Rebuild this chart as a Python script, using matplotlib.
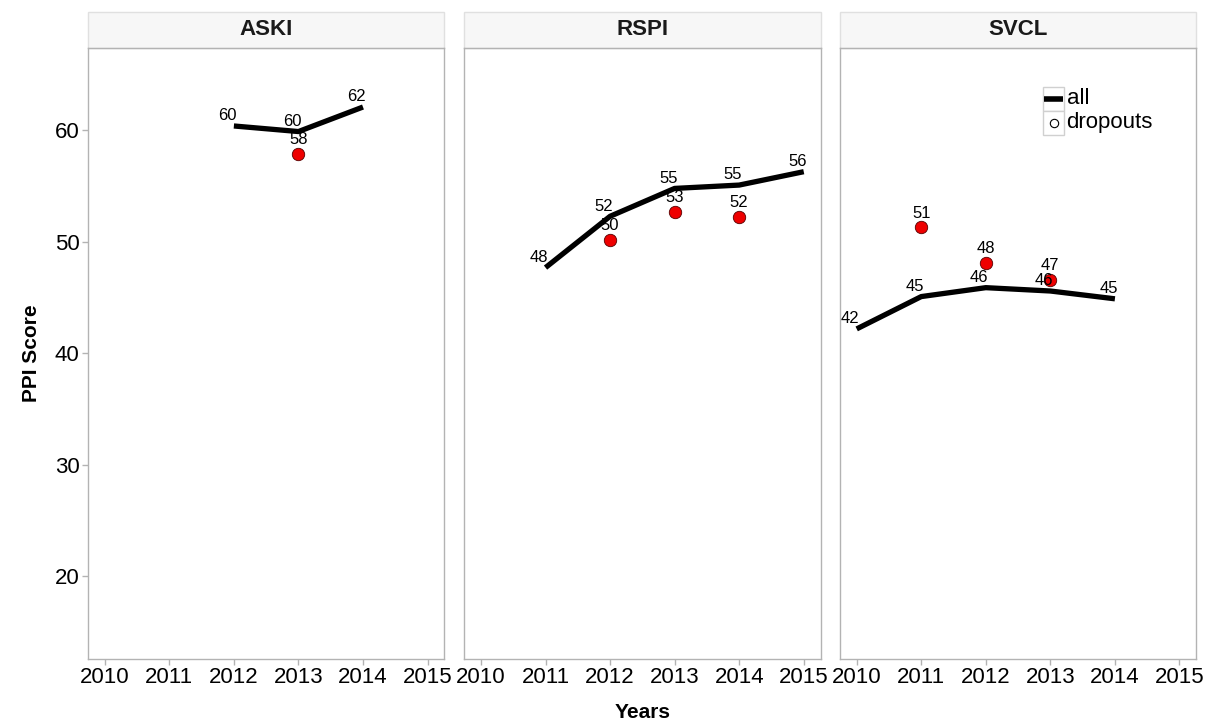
import numpy as np
import matplotlib
matplotlib.use('Agg')
import matplotlib.pyplot as plt
from matplotlib.lines import Line2D
from matplotlib.patches import Rectangle

plt.rcParams['font.family'] = ['Liberation Sans', 'DejaVu Sans']

# ── Data ──────────────────────────────────────────────────────────────────────
panels = ["ASKI", "RSPI", "SVCL"]

all_years = {
    "ASKI": [2012, 2013, 2014],
    "RSPI": [2011, 2012, 2013, 2014, 2015],
    "SVCL": [2010, 2011, 2012, 2013, 2014],
}
all_scores = {
    "ASKI": [60.4, 59.9, 62.1],
    "RSPI": [47.7, 52.3, 54.8, 55.1, 56.3],
    "SVCL": [42.2, 45.1, 45.9, 45.6, 44.9],
}
drop_years = {
    "ASKI": [2013],
    "RSPI": [2012, 2013, 2014],
    "SVCL": [2011, 2012, 2013],
}
drop_scores = {
    "ASKI": [57.9],
    "RSPI": [50.2, 52.7, 52.2],
    "SVCL": [51.3, 48.1, 46.6],
}

x_ticks = [2010, 2011, 2012, 2013, 2014, 2015]
y_ticks = [20, 30, 40, 50, 60]
legend_labels = ["all", "dropouts"]

# ── Figure ────────────────────────────────────────────────────────────────────
fig = plt.figure(figsize=(12.12, 7.26), dpi=100)
lefts = [0.0726, 0.383, 0.693]
width = 0.294
bottom, top = 0.0923, 0.934
border = '#b3b3b3'

axes = []
for i, name in enumerate(panels):
    ax = fig.add_axes([lefts[i], bottom, width, top - bottom])
    axes.append(ax)
    ax.set_xlim(2009.74, 2015.26)
    ax.set_ylim(12.6, 67.4)
    for s in ax.spines.values():
        s.set_color(border)
        s.set_linewidth(1.0)
    ax.set_xticks(x_ticks)
    ax.set_xticklabels([str(t) for t in x_ticks], fontsize=16)
    ax.set_yticks(y_ticks)
    if i == 0:
        ax.set_yticklabels([str(t) for t in y_ticks], fontsize=16)
    else:
        ax.tick_params(axis='y', left=False, labelleft=False)
    ax.tick_params(axis='both', colors=border, labelcolor='black',
                   length=4, width=1, pad=2)

    # strip header
    h = 36 / 611
    ax.add_patch(Rectangle((0, 1), 1, h, transform=ax.transAxes,
                           facecolor='#f7f7f7', edgecolor='#e0e0e0',
                           lw=1, clip_on=False))
    ax.text(0.5, 1 + h / 2, name, transform=ax.transAxes, ha='center',
            va='center', fontsize=16, fontweight='bold', color='#1a1a1a')

    xs, ys = all_years[name], all_scores[name]
    ax.plot(xs, ys, color='black', lw=3.8, solid_capstyle='butt', zorder=3)
    for x, y in zip(xs, ys):
        ax.annotate(f"{y:.0f}", (x, y), xytext=(2, 2), textcoords='offset points',
                    ha='right', va='bottom', fontsize=12, zorder=5)

    dx, dy = drop_years[name], drop_scores[name]
    ax.scatter(dx, dy, s=80, color='#ee0000', edgecolor='#550000',
               linewidth=0.6, zorder=4)
    for x, y in zip(dx, dy):
        ax.annotate(f"{y:.0f}", (x, y), xytext=(0, 5), textcoords='offset points',
                    ha='center', va='bottom', fontsize=12, zorder=5)

# legend in last panel, with ggplot-like key boxes
lax = axes[2]
kx0, kw = 0.569, 0.061
ky = [0.897, 0.858]
kh = 0.039
for j, y0 in enumerate(ky):
    lax.add_patch(Rectangle((kx0, y0), kw, kh, transform=lax.transAxes,
                            facecolor='white', edgecolor='#d0d0d0', lw=1, zorder=6))
    lax.text(kx0 + kw + 0.006, y0 + kh / 2, legend_labels[j], transform=lax.transAxes,
             ha='left', va='center', fontsize=16, zorder=7)
lax.add_line(Line2D([kx0 + 0.004, kx0 + kw - 0.004], [ky[0] + kh / 2] * 2,
                    transform=lax.transAxes, color='black', lw=4,
                    solid_capstyle='butt', zorder=7))
lax.add_line(Line2D([kx0 + kw / 2], [ky[1] + kh / 2], transform=lax.transAxes,
                    marker='o', markerfacecolor='white', markeredgecolor='black',
                    markeredgewidth=0.8, markersize=6, linestyle='none', zorder=7))

fig.text(0.026, (bottom + top) / 2, "PPI Score", rotation=90, ha='center',
         va='center', fontsize=15, fontweight='bold')
fig.text((lefts[0] + lefts[2] + width) / 2, 0.018, "Years", ha='center',
         va='center', fontsize=15, fontweight='bold')

fig.savefig("out.png", dpi=100, facecolor='white')
